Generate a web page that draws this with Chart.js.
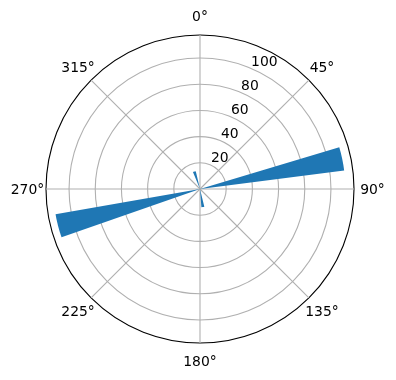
<!DOCTYPE html>
<html>
<head>
  <meta charset="UTF-8">
  <script src="https://cdn.jsdelivr.net/npm/chart.js"></script>
  <style>
    body { margin: 0; background: #fff; }
    #wrap { width: 396px; height: 380px; }
  </style>
</head>
<body>
<div id="wrap"><canvas id="polarChart"></canvas></div>
<script>
// bars: centre angle (deg, clockwise from north), height, width (deg)
var barAngles = [78, 171, 255.4, 342];
var barHeights = [111, 14, 112, 14];
var barWidths = [9.3, 9.3, 9.3, 9.3];

var thetaLabels = ['0°', '45°', '90°', '135°', '180°', '225°', '270°', '315°'];
var rTicks = [20, 40, 60, 80, 100];
var rMax = 117.6;

// build the segment table for the polarArea controller (gap, bar, gap, bar ...)
var segValues = [];
var segAngles = [];
var segColors = [];
var pos = 0;
for (var i = 0; i < barAngles.length; i++) {
  var start = barAngles[i] - barWidths[i] / 2;
  segValues.push(0); segAngles.push(start - pos); segColors.push('rgba(0,0,0,0)');
  segValues.push(barHeights[i]); segAngles.push(barWidths[i]); segColors.push('#1f77b4');
  pos = start + barWidths[i];
}
segValues.push(0); segAngles.push(360 - pos); segColors.push('rgba(0,0,0,0)');

var FONT = '13.9px "DejaVu Sans"';

var labelPlugin = {
  id: 'labelPlugin',
  afterDraw: function (chart) {
    var scale = chart.scales.r;
    var ctx = chart.ctx;
    ctx.save();
    ctx.fillStyle = '#000';
    ctx.font = FONT;
    // theta labels
    ctx.textAlign = 'center';
    ctx.textBaseline = 'middle';
    for (var i = 0; i < thetaLabels.length; i++) {
      var p = scale.getPointPosition(i, scale.drawingArea + 18.5);
      ctx.fillText(thetaLabels[i], p.x, p.y + 1);
    }
    // radial labels along 22.5 deg
    ctx.textAlign = 'left';
    ctx.textBaseline = 'alphabetic';
    var a = (22.5 - 90) * Math.PI / 180;
    rTicks.forEach(function (v) {
      var d = scale.getDistanceFromCenterForValue(v) + 2.5;
      ctx.fillText(String(v), scale.xCenter + d * Math.cos(a), scale.yCenter + d * Math.sin(a));
    });
    ctx.restore();
  }
};

new Chart(document.getElementById('polarChart'), {
  type: 'polarArea',
  data: {
    labels: thetaLabels,
    datasets: [{
      data: segValues,
      backgroundColor: segColors,
      borderWidth: 0,
      angle: function (c) { return segAngles[c.dataIndex]; }
    }]
  },
  options: {
    responsive: true,
    maintainAspectRatio: false,
    animation: false,
    layout: { padding: { left: 46, right: 42, top: 35, bottom: 37 } },
    plugins: { legend: { display: false }, tooltip: { enabled: false } },
    scales: {
      r: {
        z: 1,
        min: 0,
        max: rMax,
        startAngle: 0,
        afterBuildTicks: function (scale) {
          scale.ticks = [0].concat(rTicks, [rMax]).map(function (v) { return { value: v }; });
        },
        ticks: { display: false },
        pointLabels: { display: false },
        angleLines: { display: true, color: '#b0b0b0', lineWidth: 1.1 },
        grid: {
          circular: true,
          color: function (c) { return c.tick && c.tick.value === rMax ? '#000' : '#b0b0b0'; },
          lineWidth: function (c) { return c.tick && c.tick.value === rMax ? 1.1 : 1.1; }
        }
      }
    }
  },
  plugins: [labelPlugin]
});
</script>
</body>
</html>
